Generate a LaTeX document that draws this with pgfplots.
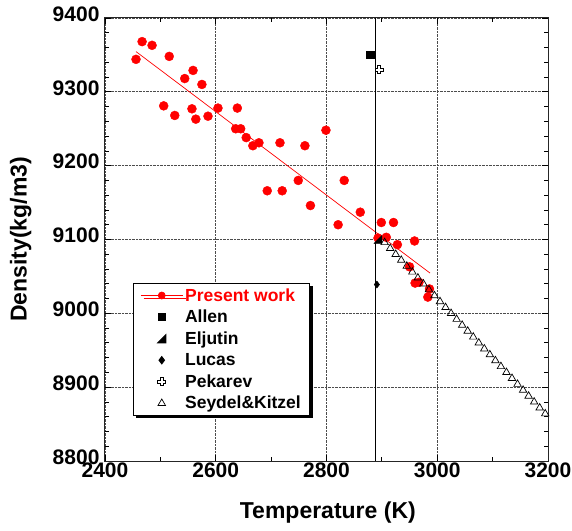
\documentclass[border=0pt]{standalone}
\usepackage{fontspec}
\setmainfont{Liberation Sans}
\usepackage{pgfplots}
\pgfplotsset{compat=1.18}
\usetikzlibrary{shadows}
\pgfdeclareplotmark{rtri}{%
  \pgfpathmoveto{\pgfqpoint{-\pgfplotmarksize}{-\pgfplotmarksize}}%
  \pgfpathlineto{\pgfqpoint{\pgfplotmarksize}{-\pgfplotmarksize}}%
  \pgfpathlineto{\pgfqpoint{\pgfplotmarksize}{\pgfplotmarksize}}%
  \pgfpathclose\pgfusepathqfillstroke}
\pgfdeclareplotmark{oplus}{%
  \pgfmathsetlengthmacro{\a}{0.38*\pgfplotmarksize}%
  \pgfmathsetlengthmacro{\s}{\pgfplotmarksize}%
  \pgfpathmoveto{\pgfqpoint{-\a}{\s}}%
  \pgfpathlineto{\pgfqpoint{\a}{\s}}%
  \pgfpathlineto{\pgfqpoint{\a}{\a}}%
  \pgfpathlineto{\pgfqpoint{\s}{\a}}%
  \pgfpathlineto{\pgfqpoint{\s}{-\a}}%
  \pgfpathlineto{\pgfqpoint{\a}{-\a}}%
  \pgfpathlineto{\pgfqpoint{\a}{-\s}}%
  \pgfpathlineto{\pgfqpoint{-\a}{-\s}}%
  \pgfpathlineto{\pgfqpoint{-\a}{-\a}}%
  \pgfpathlineto{\pgfqpoint{-\s}{-\a}}%
  \pgfpathlineto{\pgfqpoint{-\s}{\a}}%
  \pgfpathlineto{\pgfqpoint{-\a}{\a}}%
  \pgfpathclose\pgfusepathqfillstroke}
\pgfplotsset{mylegend/.style={legend image code/.code={%
  \draw[mark repeat=2,mark phase=2,##1] plot coordinates {(0pt,0pt)(21pt,0pt)(42pt,0pt)};}}}
\begin{document}
\begin{tikzpicture}
\useasboundingbox (-105pt,-69pt) rectangle (467pt,461pt);
\begin{axis}[
  at={(0,0)}, anchor=south west,
  scale only axis, width=443pt, height=443pt,
  xmin=2400, xmax=3200, ymin=8800, ymax=9400,
  xtick={2400,2600,2800,3000,3200},
  ytick={8800,8900,9000,9100,9200,9300,9400},
  minor x tick num=1, minor y tick num=4,
  tick align=inside,
  major tick length=6pt, minor tick length=4pt,
  every tick/.style={black, line width=0.8pt},
  axis line style={line width=1pt, black!85},
  grid=major,
  major grid style={densely dotted, black!70, line width=0.8pt},
  /pgf/number format/assume math mode=true,
  /pgf/number format/set thousands separator={},
  ticklabel style={font=\bfseries\fontsize{21}{21}\selectfont},
  yticklabel style={xshift=-2pt, yshift=4pt, inner ysep=1pt},
  xticklabel style={yshift=-1pt, inner ysep=1pt},
  xlabel={Temperature (K)},
  ylabel={Density(kg/m3)},
  label style={font=\bfseries\fontsize{23}{23}\selectfont},
  xlabel style={at={(axis description cs:0.503,-0.117)}, anchor=center},
  ylabel style={at={(axis description cs:-0.19,0.5)}, anchor=center},
  legend style={at={(axis description cs:0.063,0.402)}, anchor=north west,
    draw=black, line width=1pt, fill=white,
    drop shadow={shadow xshift=3pt, shadow yshift=-3pt, fill=black, opacity=1},
    font=\bfseries\fontsize{17.5}{17.5}\selectfont,
    inner xsep=7pt, inner ysep=3pt, row sep=3.5pt,
    /tikz/every even column/.append style={column sep=9pt}},
  legend cell align=left,
]
\addlegendimage{red, line width=0.7pt, mark=*, mark size=3.5pt, mark options={solid, fill=red}, mylegend}
\addlegendentry{\textcolor{red}{Present work}}
% fit line
\addplot[red, line width=0.7pt, forget plot] coordinates {(2456,9354.5) (2987,9054.5)};
% vertical line
\addplot[black, line width=1pt, forget plot] coordinates {(2889,8800) (2889,9400)};
% present work
\addplot[only marks, mark=*, mark size=4.5pt, red, mark options={fill=red, draw=red}, forget plot] coordinates {
(2456,9344) (2467,9368) (2485,9363) (2516,9348) (2544,9318) (2559,9329)
(2575,9310) (2506,9281) (2526,9268) (2557,9277) (2564,9263) (2586,9267)
(2604,9278) (2639,9278) (2636,9250) (2645,9250) (2655,9238) (2667,9227)
(2678,9231) (2716,9231) (2761,9227) (2799,9248) (2749,9180) (2693,9166)
(2720,9166) (2771,9146) (2821,9120) (2832,9180) (2861,9137) (2899,9123)
(2921,9123) (2893,9102) (2908,9103) (2928,9093) (2959,9098) (2950,9063)
(2960,9041) (2967,9042) (2986,9033) (2983,9022)
};
% Allen
\addplot[only marks, mark=square*, mark size=3.6pt, black, mylegend] coordinates {(2879,9350)};
\addlegendentry{Allen}
% Eljutin
\addplot[only marks, mark=rtri, mark size=4pt, black, mark options={fill=black}, mylegend] coordinates {(2893,9100)};
\addlegendentry{Eljutin}
% Lucas
\addplot[only marks, mark=diamond*, mark size=3.6pt, black, mark options={fill=black}, mylegend] coordinates {(2891,9039)};
\addlegendentry{Lucas}
% Pekarev
\addplot[only marks, mark=oplus, mark size=4pt, black, mark options={fill=white, line width=0.8pt}, mylegend] coordinates {(2895,9330)};
\addlegendentry{Pekarev}
% Seydel & Kitzel
\addplot[only marks, mark=triangle, mark size=4.3pt, black, mark options={line width=0.7pt}, mylegend] coordinates {
(2905,9096) (2915,9088) (2925,9080) (2935,9072) (2945,9064) (2955,9056)
(2965,9048) (2975,9040) (2985,9032) (2995,9024) (3005,9016) (3015,9008)
(3025,9000) (3035,8992) (3045,8984) (3055,8976) (3065,8968) (3075,8960)
(3085,8952) (3095,8944) (3105,8936) (3115,8928) (3125,8920) (3135,8912)
(3145,8904) (3155,8896) (3165,8888) (3175,8880) (3185,8872) (3195,8864)
};
\addlegendentry{Seydel\&Kitzel}
\end{axis}
\end{tikzpicture}
\end{document}
